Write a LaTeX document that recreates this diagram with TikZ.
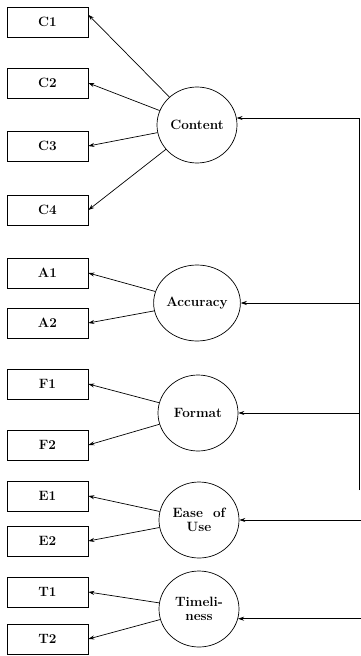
\documentclass[tikz,border=0pt]{standalone}
\usetikzlibrary{shapes.geometric,arrows.meta}
\begin{document}
\begin{tikzpicture}[x=1pt,y=-1pt,
  every node/.style={font=\fontsize{13.5}{14}\selectfont\bfseries},
  obs/.style={draw,line width=0.7pt,minimum width=81pt,minimum height=30pt,inner sep=0pt},
  lat/.style={draw,ellipse,line width=0.7pt,minimum width=80pt,minimum height=76pt,inner sep=0pt,align=center},
  arr/.style={line width=0.7pt,-{Stealth[length=6pt,width=4pt]}},
  ln/.style={line width=0.7pt}]
\useasboundingbox (0,0) rectangle (361,656);
% indicator boxes
\node[obs] (c1) at (47.5,22) {C1};
\node[obs] (c2) at (47.5,83) {C2};
\node[obs] (c3) at (47.5,146) {C3};
\node[obs] (c4) at (47.5,210) {C4};
\node[obs] (a1) at (47.5,273) {A1};
\node[obs] (a2) at (47.5,323) {A2};
\node[obs] (f1) at (47.5,384) {F1};
\node[obs] (f2) at (47.5,445) {F2};
\node[obs] (e1) at (47.5,496) {E1};
\node[obs] (e2) at (47.5,541) {E2};
\node[obs] (t1) at (47.5,592) {T1};
\node[obs] (t2) at (47.5,639) {T2};
% latent circles
\node[lat] (con) at (197,125) {Content};
\node[lat] (acc) at (197,303) {Accuracy};
\node[lat] (for) at (198,413) {Format};
\node[lat] (eas) at (199,520) {Ease\ \ of\\Use};
\node[lat] (tim) at (199,609) {Timeli-\\ness};
% loadings
\draw[arr] (con) -- (c1.10);
\draw[arr] (con) -- (c2.east);
\draw[arr] (con) -- (c3.east);
\draw[arr] (con) -- (c4.east);
\draw[arr] (acc) -- (a1.east);
\draw[arr] (acc) -- (a2.east);
\draw[arr] (for) -- (f1.east);
\draw[arr] (for) -- (f2.east);
\draw[arr] (eas) -- (e1.east);
\draw[arr] (eas) -- (e2.east);
\draw[arr] (tim) -- (t1.east);
\draw[arr] (tim) -- (t2.east);
% right-hand connectors
\coordinate (vline) at (359,490);
\coordinate (edge) at (361,0);
\draw[ln] (vline) -- (vline |- con.10);
\draw[arr] (vline |- con.10) -- (con.10);
\draw[arr] (vline |- acc.east) -- (acc.east);
\draw[arr] (vline |- for.east) -- (for.east);
\draw[arr] (edge |- eas.east) -- (eas.east);
\draw[arr] (edge |- tim.-14) -- (tim.-14);
\end{tikzpicture}
\end{document}
